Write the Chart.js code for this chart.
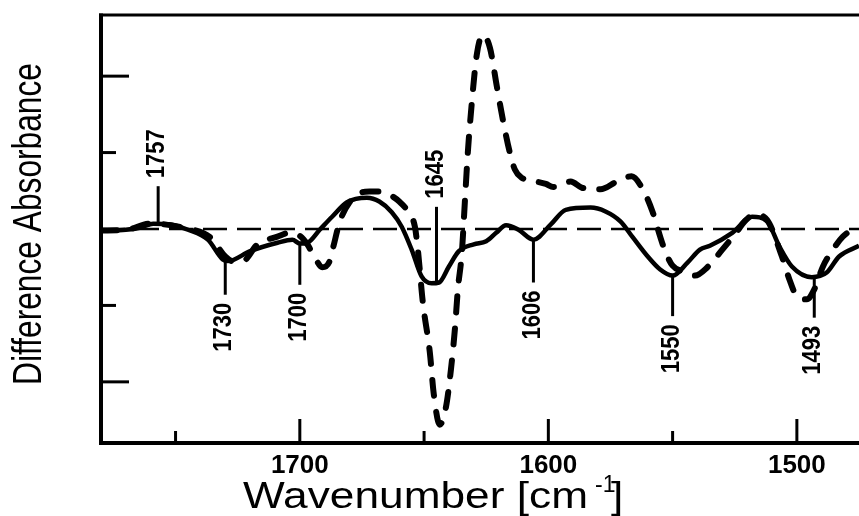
<!DOCTYPE html>
<html><head><meta charset="utf-8">
<script src="https://cdn.jsdelivr.net/npm/chart.js@4.4.0/dist/chart.umd.min.js"></script>
<style>html,body{margin:0;padding:0;background:#fff;overflow:hidden}canvas{display:block}</style>
</head><body>
<canvas id="c" width="859" height="516"></canvas>
<script>
// ---- data ----
const solidWavenumbers = [1780,1770,1764,1759,1752,1745,1737,1731,1729,1720,1709,1703,1700,1697,1692,1687,1681,1673,1668,1663,1659,1655,1651,1647,1644,1640,1636,1630,1625,1621,1617,1612,1606,1599,1593,1583,1577,1571,1566,1560,1555,1550,1544,1539,1535,1526,1518,1512,1507,1502,1494,1488,1483,1475];
const solidValues = [-0.02,-0.01,0.02,0.07,0.06,-0.01,-0.14,-0.40,-0.42,-0.29,-0.18,-0.14,-0.19,-0.18,-0.01,0.16,0.35,0.41,0.36,0.22,0.03,-0.27,-0.62,-0.71,-0.70,-0.49,-0.29,-0.20,-0.16,-0.05,0.05,-0.01,-0.14,0.06,0.25,0.28,0.23,0.10,-0.11,-0.36,-0.53,-0.61,-0.44,-0.27,-0.22,-0.05,0.16,0.10,-0.23,-0.49,-0.63,-0.57,-0.36,-0.22];

const dashedWavenumbers = [1780,1770,1760,1746,1736,1730,1727,1723,1717,1709,1704,1700,1697,1694,1691,1688,1686.5,1684,1680,1675,1672,1668,1664,1660,1656.5,1653.7,1652.5,1650.5,1647.7,1646.1,1643.7,1641.2,1639.2,1637.6,1636.4,1634.8,1633.6,1632.4,1630.8,1628.8,1626.4,1623.5,1620.7,1618.3,1615.5,1613.5,1610.7,1606,1601,1598,1591,1586.5,1579,1572.5,1566.5,1562,1558,1555,1553,1550,1544,1541,1536,1530,1524,1521,1517,1512,1506,1503,1500,1496,1493,1489.5,1485.5,1481.5,1475];
const dashedValues = [-0.02,-0.01,0.07,0.01,-0.11,-0.36,-0.42,-0.42,-0.20,-0.10,-0.05,-0.09,-0.20,-0.37,-0.50,-0.42,-0.23,0.09,0.35,0.48,0.49,0.49,0.45,0.36,0.23,0.03,-0.27,-0.96,-1.61,-2.16,-2.56,-2.33,-1.84,-1.31,-0.79,-0.31,0.35,1.00,1.65,2.28,2.54,2.37,1.86,1.43,1.00,0.78,0.67,0.63,0.59,0.55,0.62,0.54,0.52,0.62,0.69,0.52,0.22,-0.10,-0.29,-0.48,-0.57,-0.61,-0.50,-0.27,-0.03,0.10,0.19,0.12,-0.36,-0.66,-0.88,-0.92,-0.79,-0.49,-0.27,-0.10,0.04];

const zeroLineWavenumbers = [1780, 1475];
const zeroLineValues = [0, 0];

const xMajorTicks = [1700, 1600, 1500];
const xMinorTicks = [1750, 1650, 1550];
const yMajorTicks = [2, -2];
const yMinorTicks = [1, -1];

const peakWavenumbers = [1757, 1730, 1700, 1645, 1606, 1550, 1493];
const peakLabels = ['1757', '1730', '1700', '1645', '1606', '1550', '1493'];
const peakSides = ['up', 'down', 'down', 'up', 'down', 'down', 'down'];

const xTitleMain = 'Wavenumber [cm';
const xTitleSup = '-1';
const xTitleEnd = ']';
const yTitle = 'Difference Absorbance';

// ---- styling (not data) ----
const markerTipValues = [0.56, -0.86, -0.73, 0.29, -0.70, -1.14, -1.16];
const FONT = "'Liberation Sans', Arial, Helvetica, sans-serif";

function toPoints(ws, vs) { return ws.map((w, i) => ({ x: w, y: vs[i] })); }
function interp(ws, vs, w) {
  for (let i = 0; i < ws.length - 1; i++) {
    const a = ws[i], b = ws[i + 1];
    if ((w <= a && w >= b) || (w >= a && w <= b)) {
      const t = (w - a) / (b - a);
      return vs[i] + t * (vs[i + 1] - vs[i]);
    }
  }
  return 0;
}
function drawRotText(ctx, text, cx, cy, font, targetLen) {
  ctx.save();
  ctx.font = font;
  const w = ctx.measureText(text).width;
  ctx.translate(cx, cy);
  ctx.rotate(-Math.PI / 2);
  ctx.scale(targetLen / w, 1);
  ctx.textAlign = 'center';
  ctx.textBaseline = 'middle';
  ctx.fillStyle = '#000';
  ctx.fillText(text, 0, 0);
  ctx.restore();
}

const decor = {
  id: 'decor',
  afterDraw(chart) {
    const ctx = chart.ctx, a = chart.chartArea;
    const xs = chart.scales.x, ys = chart.scales.y;
    ctx.save();
    ctx.strokeStyle = '#000';
    ctx.lineCap = 'butt';
    // frame: left, top, bottom
    ctx.lineWidth = 4;
    ctx.beginPath(); ctx.moveTo(a.left, a.top - 1.5); ctx.lineTo(a.left, a.bottom + 2); ctx.stroke();
    ctx.beginPath(); ctx.moveTo(a.left - 2, a.bottom); ctx.lineTo(a.right, a.bottom); ctx.stroke();
    ctx.lineWidth = 3;
    ctx.beginPath(); ctx.moveTo(a.left - 2, a.top); ctx.lineTo(a.right, a.top); ctx.stroke();
    // inward ticks
    ctx.lineWidth = 3;
    xMajorTicks.forEach(v => { const px = xs.getPixelForValue(v); ctx.beginPath(); ctx.moveTo(px, a.bottom); ctx.lineTo(px, a.bottom - 24); ctx.stroke(); });
    xMinorTicks.forEach(v => { const px = xs.getPixelForValue(v); ctx.beginPath(); ctx.moveTo(px, a.bottom); ctx.lineTo(px, a.bottom - 12); ctx.stroke(); });
    yMajorTicks.forEach(v => { const py = ys.getPixelForValue(v); ctx.beginPath(); ctx.moveTo(a.left, py); ctx.lineTo(a.left + 28, py); ctx.stroke(); });
    yMinorTicks.forEach(v => { const py = ys.getPixelForValue(v); ctx.beginPath(); ctx.moveTo(a.left, py); ctx.lineTo(a.left + 15, py); ctx.stroke(); });
    // peak markers
    peakWavenumbers.forEach((w, i) => {
      const px = xs.getPixelForValue(w);
      const y0 = ys.getPixelForValue(interp(solidWavenumbers, solidValues, w));
      const y1 = ys.getPixelForValue(markerTipValues[i]);
      ctx.lineWidth = 3;
      ctx.beginPath(); ctx.moveTo(px, y0); ctx.lineTo(px, y1); ctx.stroke();
      const len = 49, gap = 8;
      const cy = peakSides[i] === 'up' ? y1 - gap - len / 2 : y1 + gap + len / 2;
      drawRotText(ctx, peakLabels[i], px - 1, cy, 'bold 26px ' + FONT, len);
    });
    // y title
    drawRotText(ctx, yTitle, 30, 224, '41px ' + FONT, 322);
    // x title with superscript
    ctx.fillStyle = '#000';
    ctx.textAlign = 'left';
    ctx.textBaseline = 'alphabetic';
    ctx.font = '37px ' + FONT;
    const mw = ctx.measureText(xTitleMain).width;
    const sx = 345 / mw;
    ctx.save(); ctx.translate(243, 508); ctx.scale(sx, 1); ctx.fillText(xTitleMain, 0, 0); ctx.restore();
    ctx.font = '23px ' + FONT;
    ctx.fillText(xTitleSup, 595, 492);
    ctx.font = '37px ' + FONT;
    ctx.save(); ctx.translate(611, 508); ctx.scale(sx, 1); ctx.fillText(xTitleEnd, 0, 0); ctx.restore();
    ctx.restore();
  }
};

new Chart(document.getElementById('c'), {
  type: 'line',
  data: {
    datasets: [
      { data: toPoints(solidWavenumbers, solidValues), borderColor: '#000', borderWidth: 4.5, pointRadius: 0, cubicInterpolationMode: 'monotone', fill: false },
      { data: toPoints(dashedWavenumbers, dashedValues), borderColor: '#000', borderWidth: 6, borderDash: [16, 16], borderCapStyle: 'round', pointRadius: 0, cubicInterpolationMode: 'monotone', fill: false },
      { data: toPoints(zeroLineWavenumbers, zeroLineValues), borderColor: '#000', borderWidth: 2.5, borderDash: [24, 10], pointRadius: 0, fill: false }
    ]
  },
  options: {
    responsive: false,
    animation: false,
    devicePixelRatio: 1,
    layout: { padding: { top: 15, left: 0, right: 0, bottom: 0 } },
    plugins: { legend: { display: false }, tooltip: { enabled: false } },
    scales: {
      x: {
        type: 'linear', reverse: true, min: 1475, max: 1780,
        afterBuildTicks: s => { s.ticks = xMajorTicks.map(v => ({ value: v })); },
        afterFit: s => { s.height = 73; },
        ticks: { color: '#000', font: { family: FONT, size: 26, weight: 'bold' }, padding: 7, maxRotation: 0, autoSkip: false, callback: v => String(v) },
        grid: { display: false, drawTicks: false },
        border: { display: false }
      },
      y: {
        type: 'linear', min: -2.8, max: 2.8,
        afterFit: s => { s.width = 101; },
        ticks: { display: false },
        grid: { display: false, drawTicks: false },
        border: { display: false }
      }
    }
  },
  plugins: [decor]
});
</script>
</body></html>
